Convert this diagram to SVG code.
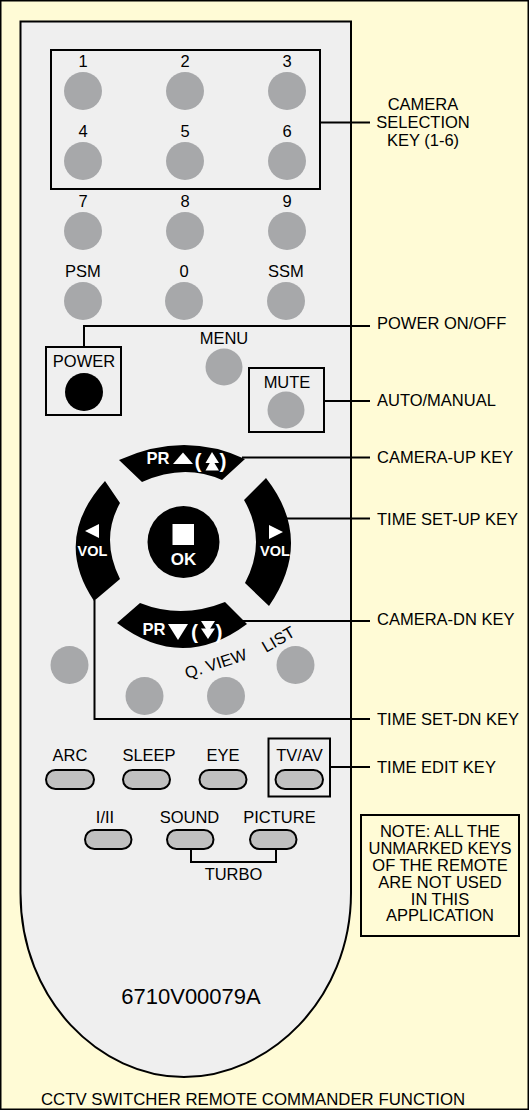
<svg xmlns="http://www.w3.org/2000/svg" width="529" height="1110" viewBox="0 0 529 1110">
<defs>
<style>
.t{font-family:"Liberation Sans",Arial,sans-serif;font-size:16.5px;fill:#000;}
.m{text-anchor:middle;}
.w{font-family:"Liberation Sans",Arial,sans-serif;font-weight:bold;fill:#fff;}
.btn{fill:#A7A8AA;}
.pill{fill:#C0C0C0;stroke:#000;stroke-width:2;}
.box{fill:none;stroke:#000;stroke-width:2;}
.ln{fill:none;stroke:#000;stroke-width:2;}
.blk{fill:#000;}
.wf{fill:#fff;}
</style>
</defs>
<rect x="0.75" y="0.75" width="527.5" height="1108.5" fill="#FFFBD6" stroke="#000" stroke-width="1.5"/>
<g id="remote">
<path d="M20.5,21.5 H351 V893 C351,1000 268,1077 184,1077 C100,1077 20.5,1000 20.5,893 Z" fill="#EFEFEF" stroke="#000" stroke-width="2"/>
<text class="t m" x="191" y="1004" style="font-size:22px">6710V00079A</text>
</g>
<g id="camera-keys">
<rect class="box" x="51" y="50" width="269" height="139"/>
<text class="t m" x="83" y="67">1</text><circle class="btn" cx="83" cy="91" r="19"/>
<text class="t m" x="185" y="67">2</text><circle class="btn" cx="185" cy="91" r="19"/>
<text class="t m" x="287" y="67">3</text><circle class="btn" cx="287" cy="91" r="19"/>
<text class="t m" x="83" y="137">4</text><circle class="btn" cx="83" cy="161" r="19"/>
<text class="t m" x="185" y="137">5</text><circle class="btn" cx="185" cy="161" r="19"/>
<text class="t m" x="287" y="137">6</text><circle class="btn" cx="287" cy="161" r="19"/>
</g>
<g id="num-keys">
<text class="t m" x="83" y="207">7</text><circle class="btn" cx="83" cy="231" r="19"/>
<text class="t m" x="185" y="207">8</text><circle class="btn" cx="185" cy="231" r="19"/>
<text class="t m" x="287" y="207">9</text><circle class="btn" cx="287" cy="231" r="19"/>
<text class="t m" x="83" y="277">PSM</text><circle class="btn" cx="83" cy="301" r="19"/>
<text class="t m" x="184" y="277">0</text><circle class="btn" cx="184" cy="301" r="19"/>
<text class="t m" x="286" y="277">SSM</text><circle class="btn" cx="286" cy="301" r="19"/>
</g>
<g id="power">
<rect class="box" x="46" y="347" width="75" height="68"/>
<text class="t m" x="84" y="367">POWER</text>
<circle class="blk" cx="84" cy="392" r="19"/>
</g>
<g id="menu">
<text class="t m" x="224" y="344">MENU</text>
<circle class="btn" cx="224" cy="367" r="18.5"/>
</g>
<g id="mute">
<rect class="box" x="249" y="368" width="75" height="64"/>
<text class="t m" x="287" y="388">MUTE</text>
<circle class="btn" cx="286" cy="410" r="18.5"/>
</g>
<g id="dpad">
<path class="blk" d="M119,460 Q184,430.5 245,459 L222,480 Q184,463 142,482 Z"/>
<path class="blk" d="M117,623 Q182,672.5 247,624 L225,602 Q181.5,619.5 140,603 Z"/>
<path class="blk" d="M105,481 Q52.5,539 94,601 L120,579 Q100,539 120,503 Z"/>
<path class="blk" d="M266,478 Q314.5,540 269,606 L245,583 Q267.5,540.5 244,500 Z"/>
<circle class="blk" cx="183.5" cy="542" r="36"/>
<rect class="wf" x="172.5" y="524" width="21.5" height="21"/>
<text class="w m" x="183.5" y="565" style="font-size:17px">OK</text>
<text class="w" x="146.5" y="464" style="font-size:16.5px" textLength="23" lengthAdjust="spacingAndGlyphs">PR</text>
<polygon class="wf" points="173,464 193,464 183,452.5"/>
<text class="w" x="194.5" y="468" style="font-size:21px">(</text>
<polygon class="wf" points="205.5,463 219,463 212,452"/>
<polygon class="wf" points="205.5,470.5 219,470.5 212,459"/>
<text class="w" x="219.5" y="468" style="font-size:21px">)</text>
<text class="w" x="142.5" y="634.5" style="font-size:16.5px" textLength="23" lengthAdjust="spacingAndGlyphs">PR</text>
<polygon class="wf" points="168,624 188,624 178,640"/>
<text class="w" x="191" y="638.5" style="font-size:21px">(</text>
<polygon class="wf" points="201,621 215,621 208,632"/>
<polygon class="wf" points="201,628.5 215,628.5 208,639"/>
<text class="w" x="215.5" y="638.5" style="font-size:21px">)</text>
<polygon class="wf" points="85,531 99,524 99,538"/>
<text class="w m" x="92.5" y="556" style="font-size:14.5px">VOL</text>
<polygon class="wf" points="283,532 269,525 269,539"/>
<text class="w m" x="275" y="556" style="font-size:14.5px">VOL</text>
</g>
<g id="lower-keys">
<circle class="btn" cx="69.5" cy="665" r="19"/>
<circle class="btn" cx="144.5" cy="696" r="19"/>
<circle class="btn" cx="226" cy="696" r="19"/>
<circle class="btn" cx="295.5" cy="665" r="19"/>
<text class="t" x="0" y="0" transform="translate(187,679) rotate(-18)">Q. VIEW</text>
<text class="t" x="0" y="0" transform="translate(266,653) rotate(-30)">LIST</text>
</g>
<g id="function-keys">
<text class="t m" x="70" y="761">ARC</text><rect class="pill" x="46" y="770" width="48" height="19" rx="9.5"/>
<text class="t m" x="149" y="761">SLEEP</text><rect class="pill" x="123" y="770" width="47" height="19" rx="9.5"/>
<text class="t m" x="223" y="761">EYE</text><rect class="pill" x="199.5" y="770" width="47" height="19" rx="9.5"/>
<rect class="box" x="268.5" y="738.5" width="61.5" height="58"/>
<text class="t m" x="299.5" y="761">TV/AV</text><rect class="pill" x="275.5" y="770" width="47.5" height="19" rx="9.5"/>
<text class="t m" x="105" y="823">I/II</text><rect class="pill" x="85" y="830" width="46.5" height="19" rx="9.5"/>
<text class="t m" x="189.5" y="823">SOUND</text><rect class="pill" x="167" y="830" width="46.5" height="19" rx="9.5"/>
<text class="t m" x="279.5" y="823">PICTURE</text><rect class="pill" x="250" y="830" width="46.5" height="19" rx="9.5"/>
<path class="ln" d="M191,849 V862 H276 V849"/>
<text class="t m" x="233.5" y="880">TURBO</text>
</g>
<g id="connectors">
<path class="ln" d="M320,122.5 H370"/>
<path class="ln" d="M84,347 V326 H370"/>
<path class="ln" d="M324,401 H370"/>
<path class="ln" d="M242,457.5 H370"/>
<path class="ln" d="M287,518.5 H370"/>
<path class="ln" d="M243,621 H370"/>
<path class="ln" d="M94.5,600 V719 H370"/>
<path class="ln" d="M330,767 H370"/>
</g>
<g id="labels">
<text class="t m" x="423" y="110">CAMERA</text>
<text class="t m" x="423" y="128">SELECTION</text>
<text class="t m" x="423" y="146">KEY (1-6)</text>
<text class="t" x="377" y="329">POWER ON/OFF</text>
<text class="t" x="377" y="406">AUTO/MANUAL</text>
<text class="t" x="377" y="463">CAMERA-UP KEY</text>
<text class="t" x="377" y="525">TIME SET-UP KEY</text>
<text class="t" x="377" y="625">CAMERA-DN KEY</text>
<text class="t" x="377" y="725">TIME SET-DN KEY</text>
<text class="t" x="377" y="773">TIME EDIT KEY</text>
</g>
<g id="note">
<rect class="box" x="361" y="815" width="158" height="121"/>
<text class="t m" x="440" y="837">NOTE: ALL THE</text>
<text class="t m" x="440" y="854">UNMARKED KEYS</text>
<text class="t m" x="440" y="871">OF THE REMOTE</text>
<text class="t m" x="440" y="888">ARE NOT USED</text>
<text class="t m" x="440" y="904.5">IN THIS</text>
<text class="t m" x="440" y="921">APPLICATION</text>
</g>
<text class="t m" x="253" y="1105" style="font-size:16.8px">CCTV SWITCHER REMOTE COMMANDER FUNCTION</text>
</svg>
